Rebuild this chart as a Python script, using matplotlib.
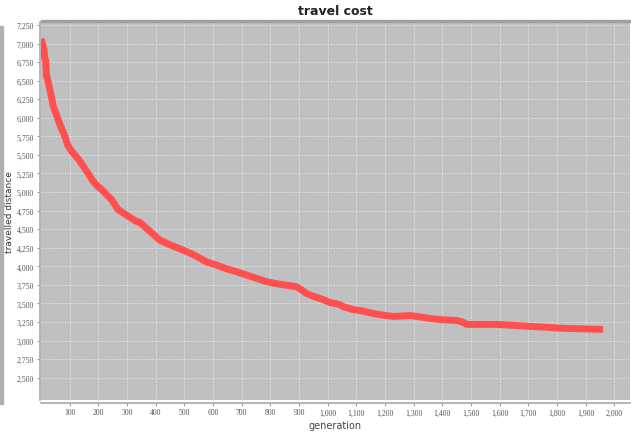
import matplotlib
matplotlib.use("Agg")
import matplotlib.pyplot as plt
from matplotlib.ticker import FuncFormatter
from matplotlib.patches import Rectangle

# best travel distance per generation
generation = [0, 5, 10, 13, 16, 19, 24, 30, 36, 42, 50, 58, 67, 76, 85, 93, 100, 106,
              120, 135, 147, 158, 170, 180, 197, 215, 230, 246, 258, 268, 290, 310,
              330, 344, 360, 372, 395, 414, 450, 495, 530, 578, 610, 648, 680, 704,
              750, 788, 830, 868, 892, 910, 927, 955, 985, 1008, 1043, 1053, 1088,
              1120, 1158, 1190, 1227, 1260, 1287, 1320, 1357, 1400, 1451, 1470, 1486,
              1540, 1591, 1650, 1706, 1760, 1821, 1890, 1961]
distance = [7063, 7000, 6930, 6800, 6780, 6570, 6500, 6395, 6290, 6170, 6080, 5995,
            5900, 5820, 5730, 5635, 5590, 5555, 5490, 5420, 5350, 5287, 5220, 5154,
            5080, 5020, 4960, 4900, 4830, 4767, 4710, 4660, 4610, 4593, 4540, 4500,
            4420, 4353, 4290, 4220, 4160, 4059, 4020, 3966, 3930, 3899, 3840, 3792,
            3760, 3739, 3725, 3680, 3632, 3590, 3552, 3512, 3485, 3458, 3418, 3400,
            3365, 3345, 3325, 3330, 3338, 3320, 3298, 3280, 3271, 3250, 3218, 3218,
            3218, 3205, 3191, 3180, 3165, 3158, 3151]

fig = plt.figure(figsize=(6.31, 4.39), dpi=100)
ax = fig.add_axes([41 / 631, 1 - 401 / 439, 589 / 631, 378 / 439])
ax.set_facecolor("#c0c0c0")

ax.plot(generation, distance, color="#ff4f4f", lw=5, solid_capstyle="butt",
        solid_joinstyle="round", zorder=3)

ax.set_xlim(0, 2055)
ax.set_ylim(2200, 7290)
ax.set_xticks(range(100, 2001, 100))
ax.set_yticks(range(2500, 7251, 250))
fmt = FuncFormatter(lambda v, p: "{:,}".format(int(v)))
ax.xaxis.set_major_formatter(fmt)
ax.yaxis.set_major_formatter(fmt)

ax.grid(True, color="#e4e4e4", lw=0.6, ls=(0, (2, 1.5)))
ax.set_axisbelow(True)
for s in ["top", "right"]:
    ax.spines[s].set_visible(False)
ax.spines["left"].set_color("#a8a8a8")
ax.spines["bottom"].set_color("#a8a8a8")
ax.spines["left"].set_linewidth(1.2)
ax.spines["bottom"].set_linewidth(1.2)
ax.spines["left"].set_position(("outward", 1))
ax.spines["bottom"].set_position(("outward", 2))

ax.tick_params(axis="both", colors="#888888", labelcolor="#555555", labelsize=5.6,
               length=2, width=0.6, pad=2)
for lab in ax.get_xticklabels() + ax.get_yticklabels():
    lab.set_family(["Liberation Serif", "DejaVu Serif"])

ax.set_xlabel("generation", fontsize=7, color="#444444", labelpad=3)
ax.set_ylabel("travelled distance", fontsize=6.5, color="#333333")
ax.yaxis.set_label_coords(-27 / 589, 0.5)
ax.set_title("travel cost", fontsize=9, fontweight="bold", color="#222222", pad=6)

# dark band along the top of the plot area
ax.add_patch(Rectangle((0, 1), 1, 0.006, transform=ax.transAxes, color="#a0a0a0",
                       clip_on=False, zorder=4))
# grey strip at the left edge of the screenshot
fig.patches.append(Rectangle((0, 1 - 405 / 439), 3 / 631, 378 / 439,
                             transform=fig.transFigure, color="#b0b0b0"))

fig.savefig("out.png", dpi=100)
